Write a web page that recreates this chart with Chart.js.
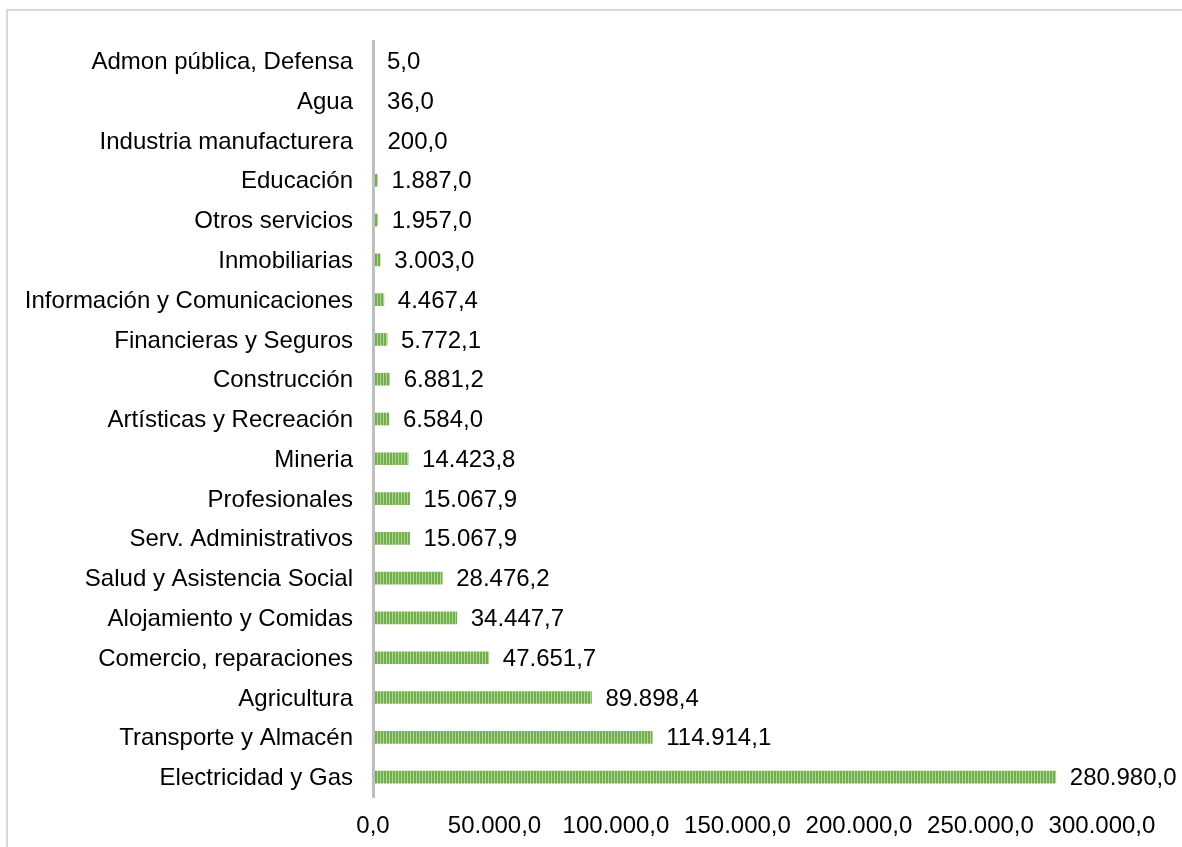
<!DOCTYPE html>
<html>
<head>
<meta charset="utf-8">
<script src="https://cdn.jsdelivr.net/npm/chart.js@4/dist/chart.umd.min.js"></script>
<style>
  html, body { margin: 0; padding: 0; background: #ffffff; }
  #wrap { position: relative; width: 1182px; height: 847px; overflow: hidden; }
  #frame { position: absolute; left: 6px; top: 9px; width: 1190px; height: 850px;
           border: 2px solid #D9D9D9; box-sizing: border-box; }
  #c { position: absolute; left: 0; top: 0; }
</style>
</head>
<body>
<div id="wrap">
  <div id="frame"></div>
  <canvas id="c" width="1182" height="847"></canvas>
</div>
<script>
// Sectors, listed top to bottom
const categories = [
  'Admon pública, Defensa',
  'Agua',
  'Industria manufacturera',
  'Educación',
  'Otros servicios',
  'Inmobiliarias',
  'Información y Comunicaciones',
  'Financieras y Seguros',
  'Construcción',
  'Artísticas y Recreación',
  'Mineria',
  'Profesionales',
  'Serv. Administrativos',
  'Salud y Asistencia Social',
  'Alojamiento y Comidas',
  'Comercio, reparaciones',
  'Agricultura',
  'Transporte y Almacén',
  'Electricidad y Gas'
];

const values = [
  5.0, 36.0, 200.0, 1887.0, 1957.0, 3003.0, 4467.4, 5772.1, 6881.2, 6584.0,
  14423.8, 15067.9, 15067.9, 28476.2, 34447.7, 47651.7, 89898.4, 114914.1, 280980.0
];

// Value axis ticks
const xTicks = [0, 50000, 100000, 150000, 200000, 250000, 300000];

// Spanish number format: "." for thousands, "," for decimals, one decimal
function fmt(v) {
  const s = v.toFixed(1);
  const [ip, dp] = s.split('.');
  return ip.replace(/\B(?=(\d{3})+(?!\d))/g, '.') + ',' + dp;
}

const FONT = "'Liberation Sans', Arial, sans-serif";
const FSIZE = 24;

// Narrow vertical stripe fill
function stripePattern() {
  const p = document.createElement('canvas');
  p.width = 3; p.height = 4;
  const g = p.getContext('2d');
  g.fillStyle = '#72AE4A';
  g.fillRect(0, 0, 2, 4);
  g.fillStyle = '#B2D79A';
  g.fillRect(2, 0, 1, 4);
  return document.getElementById('c').getContext('2d').createPattern(p, 'repeat');
}

const valueLabels = {
  id: 'valueLabels',
  afterDatasetsDraw(chart) {
    const ctx = chart.ctx;
    const meta = chart.getDatasetMeta(0);
    ctx.save();
    ctx.font = FSIZE + 'px ' + FONT;
    ctx.fillStyle = '#000000';
    ctx.textAlign = 'left';
    ctx.textBaseline = 'middle';
    meta.data.forEach((bar, i) => {
      ctx.fillText(fmt(values[i]), bar.x + 14, bar.y + 1.5);
    });
    ctx.restore();
  }
};

new Chart(document.getElementById('c'), {
  type: 'bar',
  data: {
    labels: categories,
    datasets: [{
      data: values,
      backgroundColor: stripePattern(),
      borderWidth: 0,
      barThickness: 12
    }]
  },
  plugins: [valueLabels],
  options: {
    indexAxis: 'y',
    responsive: false,
    animation: false,
    events: [],
    layout: { padding: { top: 41, right: 80, left: 0, bottom: 0 } },
    plugins: { legend: { display: false }, tooltip: { enabled: false } },
    scales: {
      x: {
        min: 0,
        max: 300000,
        afterBuildTicks(scale) { scale.ticks = xTicks.map(v => ({ value: v })); },
        afterFit(scale) { scale.height = 50; },
        grid: { display: false, drawTicks: false },
        border: { display: false },
        ticks: {
          padding: 15,
          color: '#000000',
          font: { family: FONT, size: FSIZE },
          maxRotation: 0,
          autoSkip: false,
          callback: v => fmt(v)
        }
      },
      y: {
        afterFit(scale) { scale.width = 373; },
        grid: { display: false, drawTicks: false },
        border: { display: true, color: '#BFBFBF', width: 3, z: 1 },
        ticks: {
          padding: 20,
          labelOffset: 1.5,
          color: '#000000',
          autoSkip: false,
          font: { family: FONT, size: FSIZE }
        }
      }
    }
  }
});
</script>
</body>
</html>
